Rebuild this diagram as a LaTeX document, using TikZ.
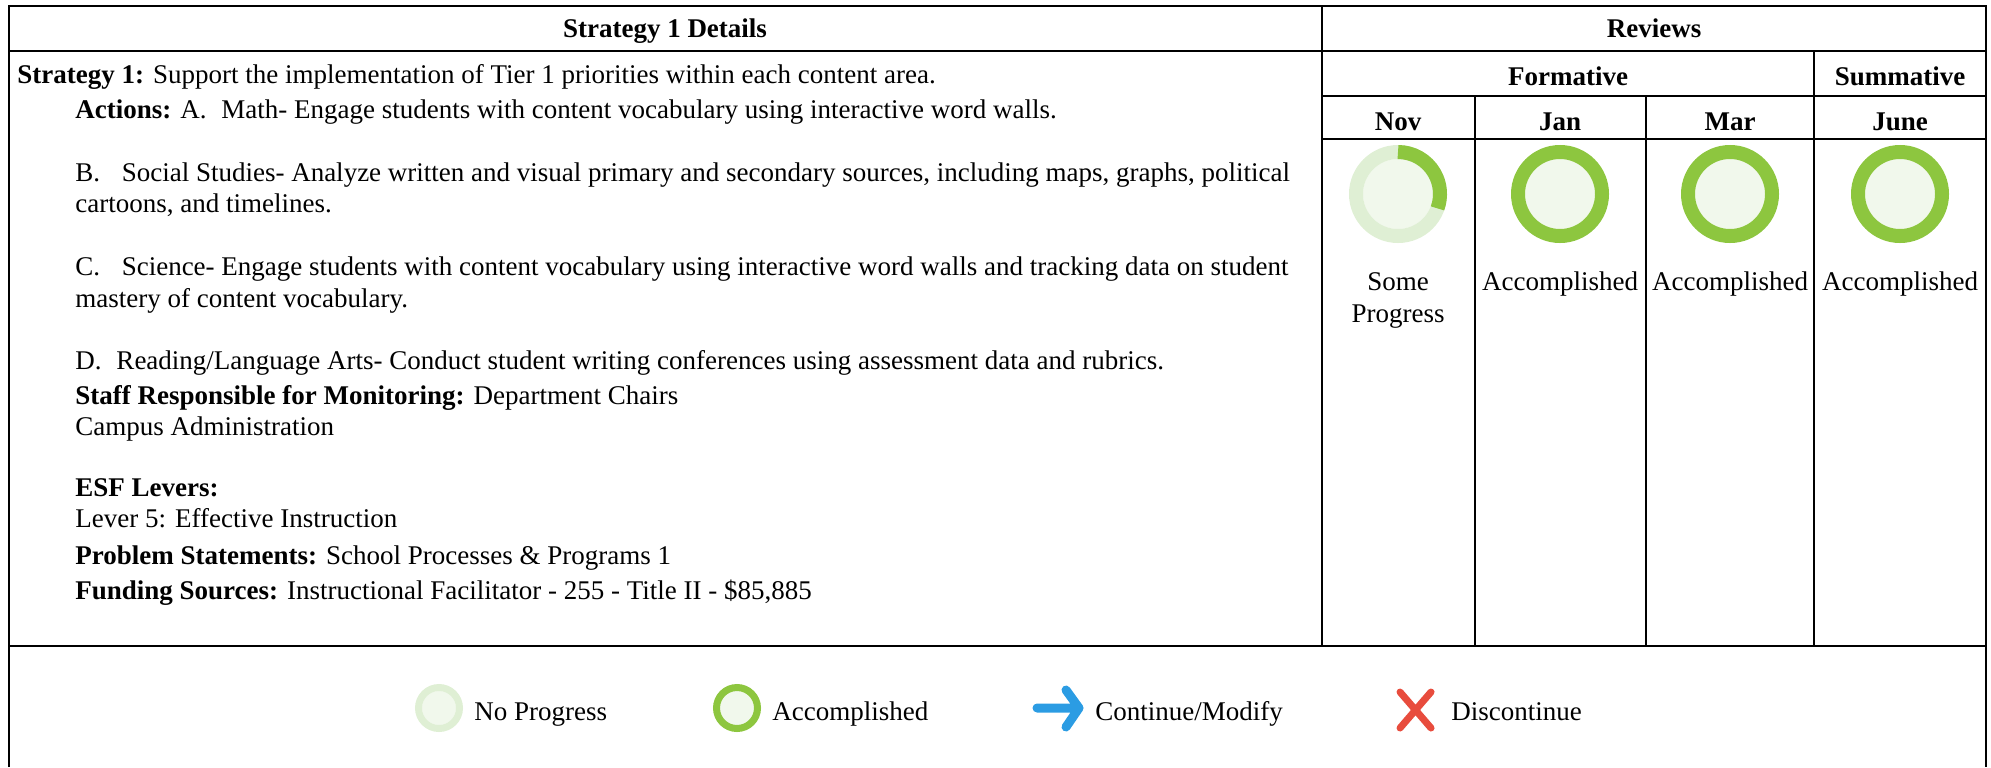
\documentclass[tikz,border=0pt]{standalone}
\usepackage{fontspec}
\setmainfont{Liberation Serif}
\definecolor{okgreen}{HTML}{8DC63F}
\definecolor{palegreen}{HTML}{DFEFD4}
\definecolor{fillgreen}{HTML}{F1F8EC}
\definecolor{arrowblue}{HTML}{2B9CE3}
\definecolor{stopred}{HTML}{E84C3D}

\begin{document}
\begin{tikzpicture}[x=0.5pt, y=-0.5pt,
    txt/.style={anchor=base west, inner sep=0pt, font=\fontsize{13.5}{16}\selectfont},
    hdr/.style={anchor=base, inner sep=0pt, font=\fontsize{13.5}{16}\selectfont\bfseries},
    lbl/.style={anchor=base, inner sep=0pt, font=\fontsize{13.5}{16}\selectfont},
    rule/.style={line width=1pt, black}]
    \useasboundingbox (0,0) rectangle (1991,767);

    % table frame
    \draw[rule] (9,767) -- (9,6) -- (1986,6) -- (1986,767);
    \draw[rule] (9,51) -- (1986,51);
    \draw[rule] (9,646) -- (1986,646);
    \draw[rule] (1322,6) -- (1322,646);
    \draw[rule] (1322,96) -- (1986,96);
    \draw[rule] (1322,139) -- (1986,139);
    \draw[rule] (1814,51) -- (1814,646);
    \foreach \x in {1475,1646}
        \draw[rule] (\x,96) -- (\x,646);

    % headers
    \node[hdr] (details) at (665,37) {Strategy 1 Details};
    \node[hdr] (reviews) at (1654,37) {Reviews};
    \node[hdr] (formative) at (1568,85) {Formative};
    \node[hdr] (summative) at (1900,85) {Summative};
    \foreach \m/\x in {Nov/1398,Jan/1560,Mar/1730,June/1900}
        \node[hdr] (m\m) at (\x,130) {\m};

    % strategy text
    \node[txt] (strategy) at (17,83) {\textbf{Strategy 1:} Support the implementation of Tier 1 priorities within each content area.};
    \node[txt] (actA) at (75,118) {\textbf{Actions:} A.\hspace{0.55em}Math- Engage students with content vocabulary using interactive word walls.};
    \node[txt] (actB) at (75,181) {B.\hspace{0.8em}Social Studies- Analyze written and visual primary and secondary sources, including maps, graphs, political};
    \node[txt] (actBb) at (75,212) {cartoons, and timelines.};
    \node[txt] (actC) at (75,275) {C.\hspace{0.8em}Science- Engage students with content vocabulary using interactive word walls and tracking data on student};
    \node[txt] (actCb) at (75,307) {mastery of content vocabulary.};
    \node[txt] (actD) at (75,369) {D.\hspace{0.55em}Reading/Language Arts- Conduct student writing conferences using assessment data and rubrics.};
    \node[txt] (staff) at (75,404) {\textbf{Staff Responsible for Monitoring:} Department Chairs};
    \node[txt] (campus) at (75,435) {Campus Administration};
    \node[txt] (esf) at (75,496) {\textbf{ESF Levers:}};
    \node[txt] (lever) at (75,527) {Lever 5: Effective Instruction};
    \node[txt] (problem) at (75,564) {\textbf{Problem Statements:} School Processes \& Programs 1};
    \node[txt] (funding) at (75,599) {\textbf{Funding Sources:} Instructional Facilitator - 255 - Title II - \$85,885};

    % reviews
    \fill[fillgreen] (1398,194) circle[radius=17.5pt];
    \draw[palegreen, line width=7pt] (1398,194) circle[radius=21pt];
    \draw[okgreen, line width=7pt] (1398,194) ++(90:21pt) arc[start angle=90, end angle=-20, radius=21pt];
    \node[lbl] (novA) at (1398,290) {Some};
    \node[lbl] (novB) at (1398,322) {Progress};
    \foreach \x in {1560,1730,1900} {
        \fill[fillgreen] (\x,194) circle[radius=17.5pt];
        \draw[okgreen, line width=7pt] (\x,194) circle[radius=21pt];
        \node[lbl] (done\x) at (\x,290) {Accomplished};
    }

    % legend
    \fill[fillgreen] (439,708) circle[radius=8.5pt];
    \draw[palegreen, line width=3.5pt] (439,708) circle[radius=10.25pt];
    \node[txt] (noprog) at (474,720) {No Progress};
    \fill[fillgreen] (737,708) circle[radius=8.5pt];
    \draw[okgreen, line width=3.5pt] (737,708) circle[radius=10.25pt];
    \node[txt] (accomp) at (772,720) {Accomplished};
    \draw[arrowblue, line width=4.5pt, line cap=round, line join=round]
        (1037,708) -- (1079,708) (1066,690) -- (1079,708) -- (1066,727);
    \node[txt] (contmod) at (1095,720) {Continue/Modify};
    \draw[stopred, line width=3.5pt, line cap=round]
        (1400,692) -- (1431,728) (1431,692) -- (1400,728);
    \node[txt] (discont) at (1451,720) {Discontinue};
\end{tikzpicture}
\end{document}
